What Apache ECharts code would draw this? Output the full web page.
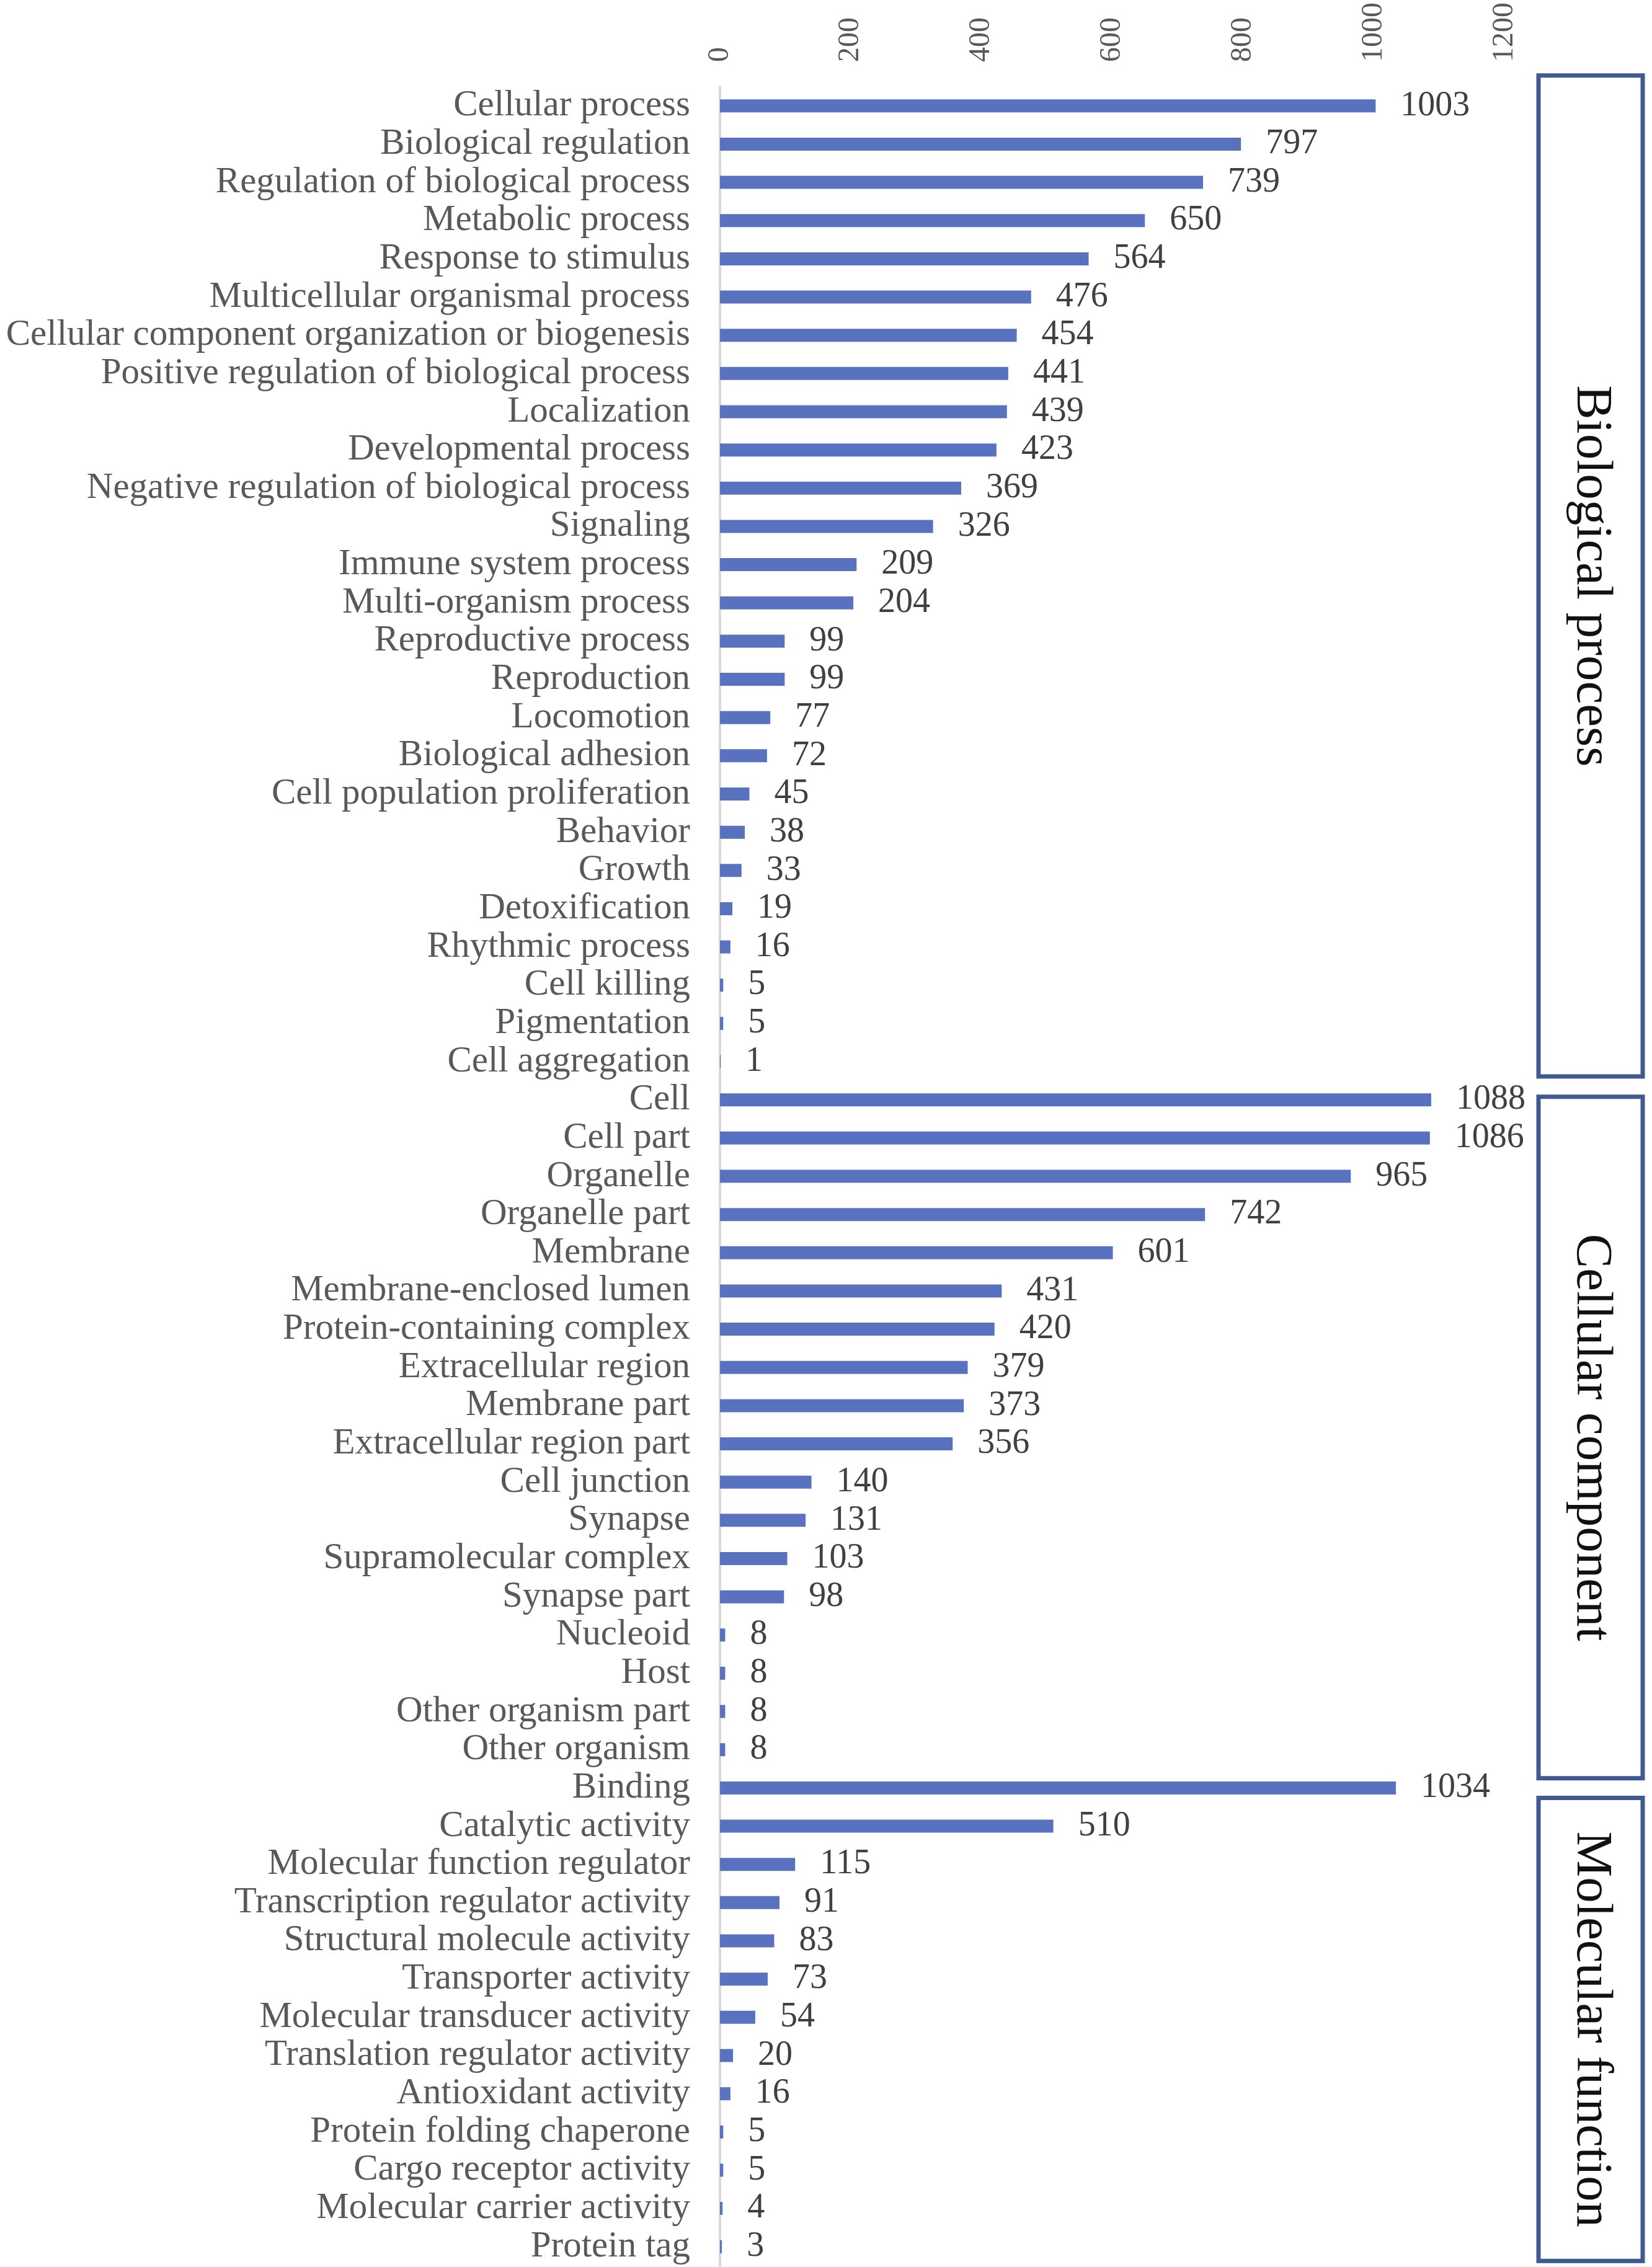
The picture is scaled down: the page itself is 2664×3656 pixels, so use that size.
<!DOCTYPE html>
<html>
<head>
<meta charset="utf-8">
<script src="https://cdn.jsdelivr.net/npm/echarts@6/dist/echarts.min.js"></script>
<style>
html,body{margin:0;padding:0;background:#fff;}
#chart{width:2664px;height:3656px;}
</style>
</head>
<body>
<div id="chart"></div>
<script>
const categories = [
  "Cellular process","Biological regulation","Regulation of biological process","Metabolic process",
  "Response to stimulus","Multicellular organismal process","Cellular component organization or biogenesis",
  "Positive regulation of biological process","Localization","Developmental process",
  "Negative regulation of biological process","Signaling","Immune system process","Multi-organism process",
  "Reproductive process","Reproduction","Locomotion","Biological adhesion","Cell population proliferation",
  "Behavior","Growth","Detoxification","Rhythmic process","Cell killing","Pigmentation","Cell aggregation",
  "Cell","Cell part","Organelle","Organelle part","Membrane","Membrane-enclosed lumen",
  "Protein-containing complex","Extracellular region","Membrane part","Extracellular region part",
  "Cell junction","Synapse","Supramolecular complex","Synapse part","Nucleoid","Host",
  "Other organism part","Other organism",
  "Binding","Catalytic activity","Molecular function regulator","Transcription regulator activity",
  "Structural molecule activity","Transporter activity","Molecular transducer activity",
  "Translation regulator activity","Antioxidant activity","Protein folding chaperone",
  "Cargo receptor activity","Molecular carrier activity","Protein tag"
];
const values = [
  1003,797,739,650,564,476,454,441,439,423,369,326,209,204,99,99,77,72,45,38,33,19,16,5,5,1,
  1088,1086,965,742,601,431,420,379,373,356,140,131,103,98,8,8,8,8,
  1034,510,115,91,83,73,54,20,16,5,5,4,3
];
const groupNames = ["Biological process","Cellular component","Molecular function"];
const groupFirst = ["Cellular process","Cell","Binding"];
const groupLast = ["Cell aggregation","Other organism","Protein tag"];
const xTicks = [0,200,400,600,800,1000,1200];

const FONT = "'Liberation Serif','Times New Roman',serif";
const chart = echarts.init(document.getElementById('chart'));
const option = {
  backgroundColor: '#ffffff',
  animation: false,
  grid: {left: 1161, right: 238, top: 140, bottom: 2, containLabel: false},
  xAxis: {
    type: 'value', position: 'top', min: xTicks[0], max: xTicks[xTicks.length-1], interval: 200,
    axisLine: {show: false}, axisTick: {show: false}, splitLine: {show: false},
    axisLabel: {rotate: -90, fontSize: 48, color: '#595959', fontFamily: FONT, margin: 40,
                formatter: function (v) { return String(v); }}
  },
  yAxis: {
    type: 'category', inverse: true, data: categories,
    axisLine: {show: true, lineStyle: {color: '#d9d9d9', width: 4}},
    axisTick: {show: false},
    axisLabel: {fontSize: 59, color: '#595959', fontFamily: FONT, margin: 48, interval: 0}
  },
  series: [{
    type: 'bar', data: values, barWidth: 21,
    itemStyle: {color: '#5872C0'},
    label: {show: true, position: 'right', distance: 40, fontSize: 56, color: '#404040', fontFamily: FONT}
  }]
};
chart.setOption(option);

const topOff = [-49, -5, 16];
const botOff = [24, 46, 23];
const graphics = [];
for (let g = 0; g < groupNames.length; g++) {
  const y1 = chart.convertToPixel({yAxisIndex: 0}, groupFirst[g]) + topOff[g];
  const y2 = Math.min(chart.convertToPixel({yAxisIndex: 0}, groupLast[g]) + botOff[g], 3648);
  graphics.push({
    type: 'rect', shape: {x: 2481, y: y1, width: 168, height: y2 - y1},
    style: {fill: 'none', stroke: '#3E5A91', lineWidth: 7}, z: 10
  });
  graphics.push({
    type: 'text', x: 2566, y: (y1 + y2) / 2, rotation: -Math.PI / 2,
    style: {text: groupNames[g], fontSize: 83, fontFamily: FONT, fill: '#111111',
            textAlign: 'center', textVerticalAlign: 'middle'}, z: 11
  });
}
chart.setOption({graphic: graphics});
</script>
</body>
</html>
